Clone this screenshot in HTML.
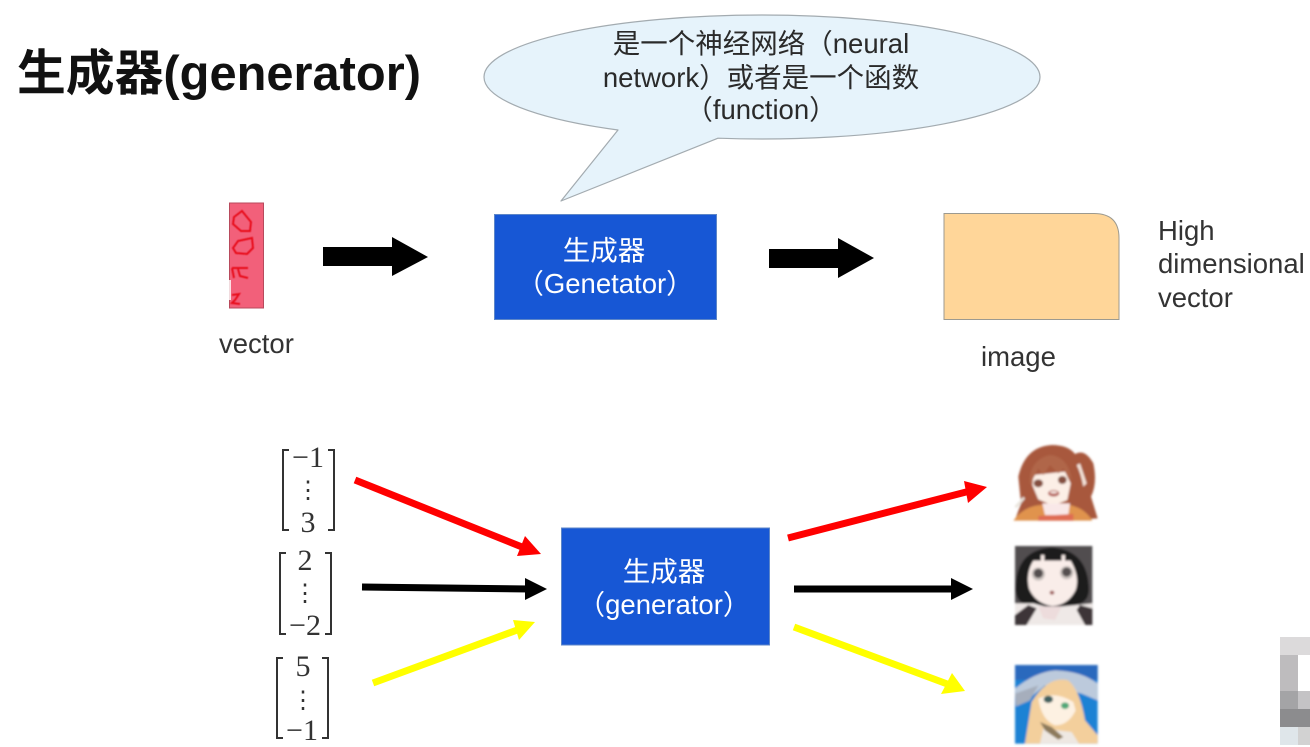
<!DOCTYPE html>
<html><head><meta charset="utf-8">
<style>
html,body{margin:0;padding:0;background:#fff;width:1310px;height:747px;overflow:hidden}
svg{display:block}
text{font-family:"Liberation Sans","Noto Sans CJK SC",sans-serif}
.w{fill:#fff;font-size:27.5px;text-anchor:middle}
.d{fill:#333;font-size:27.5px}
.c{fill:#2a2a2a;font-size:27.5px;text-anchor:middle}
.m{fill:#333;font-size:30px;text-anchor:middle;font-family:"Liberation Serif",serif}
.v{fill:#333;font-size:24px;text-anchor:middle;font-family:"Liberation Serif",serif}
.b{fill:none;stroke:#333;stroke-width:2}
</style></head><body>
<svg width="1310" height="747" viewBox="0 0 1310 747" xmlns="http://www.w3.org/2000/svg">
<defs>
<filter id="bf" x="-10%" y="-10%" width="120%" height="120%"><feGaussianBlur stdDeviation="3.5"/></filter>
<filter id="bs" x="-10%" y="-10%" width="120%" height="120%"><feGaussianBlur stdDeviation="0.5"/></filter>
</defs>
<rect width="1310" height="747" fill="#fff"/>

<text x="17" y="90" font-size="48.8" font-weight="700" fill="#111">生成器(generator)</text>

<!-- callout -->
<path d="M561 201 L618 130 A278 62 0 0 1 484 77 A278 62 0 0 1 1040 77 A278 62 0 0 1 718 138.200 Z" fill="#e6f3fb" stroke="#a3abb0" stroke-width="1.2" stroke-linejoin="round"/>
<text class="c" x="761" y="53">是一个神经网络（neural</text>
<text class="c" x="761" y="87">network）或者是一个函数</text>
<text class="c" x="761" y="119">（function）</text>

<!-- vector -->
<rect x="229.500" y="203" width="34" height="105" fill="#f2607a" stroke="#b84a5c" stroke-width="1"/>
<g fill="none" stroke="#e8101f" stroke-width="2" filter="url(#bs)">
<path d="M242 211 L251 222 L250 231 L241 231 L233 224 L234 217 Z"/>
<path d="M238 241 L252 238 L253 248 L247 254 L236 253 L233 248 Z"/>
<path d="M232 268 L248 268 M232 268 L234 278 M238 269 L240 276 L248 278"/>
<path d="M232 295 L239 294 L235 300 L232 303 L240 304"/>
</g>
<rect x="228" y="280" width="3" height="20" fill="#fff" opacity=".8"/>
<text class="d" x="219" y="353">vector</text>

<!-- big arrows -->
<path d="M323 247 H392 V237 L428 257 L392 276 V266 H323 Z" fill="#000"/>
<path d="M769 249 H838 V238 L874 258 L838 278 V268 H769 Z" fill="#000"/>

<!-- generator top -->
<rect x="494.500" y="214.500" width="222" height="105" fill="#1757d5" stroke="#5d86c8" stroke-width="1"/>
<text class="w" x="604" y="260">生成器</text>
<text class="w" x="605" y="293">（Genetator）</text>

<!-- image -->
<path d="M944 213.500 H1094 Q1119 213.500 1119 238 V319.500 H944 Z" fill="#ffd699" stroke="#9c9a90" stroke-width="1"/>
<text class="d" x="981" y="366">image</text>
<text class="d" x="1158" y="240">High</text>
<text class="d" x="1158" y="273">dimensional</text>
<text class="d" x="1158" y="307">vector</text>

<!-- matrices -->
<path class="b" d="M289 450 H283 V530 H289 M328 450 H334 V530 H328"/>
<text class="m" x="308" y="467">−1</text>
<text class="v" x="308" y="498">⋮</text>
<text class="m" x="308" y="532">3</text>
<path class="b" d="M286 553 H280 V634 H286 M325 553 H331 V634 H325"/>
<text class="m" x="305" y="570">2</text>
<text class="v" x="305" y="601">⋮</text>
<text class="m" x="305" y="635">−2</text>
<path class="b" d="M283 658 H277 V738 H283 M322 658 H328 V738 H322"/>
<text class="m" x="303" y="676">5</text>
<text class="v" x="303" y="708">⋮</text>
<text class="m" x="302" y="740">−1</text>

<!-- arrows -->
<g stroke-width="7" fill="none">
<path d="M355 480 L527 549" stroke="#ff0000"/>
<path d="M362 587 L530 589" stroke="#000"/>
<path d="M373 683 L520 629" stroke="#ffff00"/>
<path d="M788 538 L970 491" stroke="#ff0000"/>
<path d="M794 589 L955 589" stroke="#000"/>
<path d="M794 627 L950 685" stroke="#ffff00"/>
</g>
<path d="M541 554 L517 556 L525 536 Z" fill="#ff0000"/>
<path d="M547 589 L525 600 L525 578 Z" fill="#000"/>
<path d="M535 622 L513 620 L519 640 Z" fill="#ffff00"/>
<path d="M987 487 L964 481 L968 503 Z" fill="#ff0000"/>
<path d="M973 589 L951 600 L951 578 Z" fill="#000"/>
<path d="M965 691 L952 673 L941 694 Z" fill="#ffff00"/>

<!-- generator bottom -->
<rect x="561.500" y="528" width="208" height="117" fill="#1757d5" stroke="#5d86c8" stroke-width="1"/>
<text class="w" x="664" y="581">生成器</text>
<text class="w" x="664" y="614">（generator）</text>

<!-- face 1 -->
<g transform="translate(1005 440) scale(.3333)" filter="url(#bf)">
<path d="M30 240 L48 190 L40 110 Q60 20 140 15 Q190 15 210 42 Q240 25 265 70 Q278 130 258 170 L278 235 L200 240 Z" fill="#a8593c"/>
<path d="M225 70 L245 130 L235 140 Q228 100 215 75 Z" fill="#f5e4da"/>
<path d="M85 105 L180 95 L197 130 L187 180 L145 197 L100 178 L82 135 Z" fill="#fcefe6"/>
<path d="M75 135 Q70 60 135 45 Q190 50 200 120 L175 85 L160 100 L135 75 L115 105 L100 85 Z" fill="#b0664a"/>
<ellipse cx="100" cy="130" rx="14" ry="12" fill="#85503f"/>
<ellipse cx="172" cy="120" rx="13" ry="12" fill="#85503f"/>
<ellipse cx="146" cy="160" rx="17" ry="10" fill="#b5605a"/>
<ellipse cx="146" cy="157" rx="11" ry="4" fill="#f5e5e0"/>
<path d="M25 242 Q55 200 105 195 L195 195 Q240 205 262 242 Z" fill="#e0934e"/>
<path d="M112 190 L195 190 L190 225 L120 225 Z" fill="#f9e8e8"/>
<path d="M100 228 L205 222 L205 242 L100 242 Z" fill="#df6c52"/>
<path d="M28 200 L55 170 L60 176 L36 204 Z" fill="#e9e4dc"/>
</g>
<!-- face 2 -->
<g transform="translate(1005 540) scale(.3333)" filter="url(#bf)">
<rect x="30" y="18" width="232" height="237" fill="#514d4f"/>
<path d="M32 150 Q30 30 140 22 Q250 30 252 150 Q250 190 210 195 L70 195 Q35 190 32 150 Z" fill="#1d1b1c"/>
<path d="M85 62 H108 V45 H118 V62 H170 V45 H180 V62 H197 Q225 110 212 150 Q190 195 142 198 Q90 190 72 145 Q62 100 85 62 Z" fill="#f9ede9"/>
<circle cx="100" cy="102" r="20" fill="#c9c1bd"/>
<circle cx="185" cy="98" r="20" fill="#c9c1bd"/>
<circle cx="100" cy="100" r="14" fill="#55504f"/>
<circle cx="185" cy="96" r="14" fill="#55504f"/>
<ellipse cx="141" cy="158" rx="7" ry="6" fill="#a0605e"/>
<path d="M30 190 L85 190 L120 200 L170 200 L215 195 L262 190 V255 H30 Z" fill="#efe9e7"/>
<path d="M30 255 L30 225 L70 195 L95 205 L65 255 Z" fill="#3c3537"/>
<path d="M262 255 V205 L225 195 L215 210 L240 255 Z" fill="#3c3537"/>
<path d="M100 200 L170 200 L150 240 L115 235 Z" fill="#eddcdc"/>
</g>
<!-- face 3 -->
<g transform="translate(1005 657) scale(.3333)" filter="url(#bf)">
<rect x="30" y="24" width="248" height="236" fill="#1f82d4"/>
<rect x="30" y="24" width="248" height="45" fill="#2a69bd"/>
<path d="M30 95 Q90 45 150 40 Q230 42 278 80 L278 130 L230 110 L120 85 L60 135 L33 148 Z" fill="#bccadc"/>
<path d="M33 148 L30 110 L100 85 L75 130 Z" fill="#a6aebc"/>
<path d="M60 260 L80 135 Q130 55 190 70 Q225 100 240 190 L278 235 V260 Z" fill="#f3cf9c"/>
<path d="M100 125 Q150 100 205 135 L212 160 Q190 205 150 205 Q110 190 100 125 Z" fill="#fdf1e2"/>
<ellipse cx="130" cy="127" rx="14" ry="11" fill="#41605f"/>
<ellipse cx="180" cy="146" rx="12" ry="10" fill="#4fa878"/>
<path d="M105 260 L115 215 L200 225 L222 260 Z" fill="#eee8e2"/>
<path d="M105 195 L140 210 L175 240 L160 248 L120 220 Z" fill="#8d7a5c"/>
</g>

<!-- mosaic -->
<rect x="1280" y="637" width="30" height="18" fill="#dcdadb"/>
<rect x="1280" y="655" width="18" height="36" fill="#bebcbe"/>
<rect x="1280" y="691" width="18" height="18" fill="#a4a4a6"/>
<rect x="1298" y="691" width="12" height="18" fill="#c4c3c5"/>
<rect x="1280" y="709" width="30" height="18" fill="#8c8c8e"/>
<rect x="1280" y="727" width="18" height="18" fill="#dfe6ea"/>
<rect x="1298" y="727" width="12" height="18" fill="#d2d2d2"/>
</svg>
</body></html>
